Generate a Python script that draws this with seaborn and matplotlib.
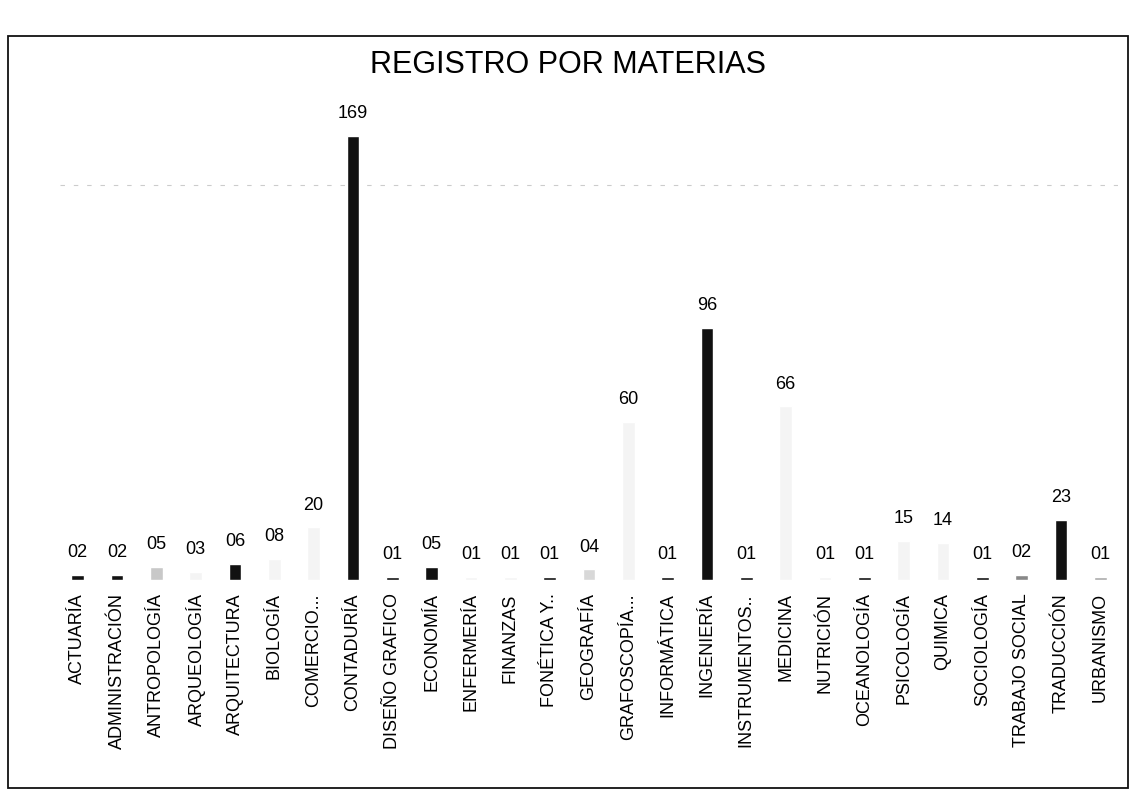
import pandas as pd
import seaborn as sns
import matplotlib.pyplot as plt
from matplotlib.patches import Rectangle

# Data
materias = ['ACTUARÍA', 'ADMINISTRACIÓN', 'ANTROPOLOGÍA', 'ARQUEOLOGÍA', 'ARQUITECTURA',
            'BIOLOGÍA', 'COMERCIO...', 'CONTADURÍA', 'DISEÑO GRAFICO', 'ECONOMÍA',
            'ENFERMERÍA', 'FINANZAS', 'FONÉTICA Y..', 'GEOGRAFÍA', 'GRAFOSCOPÍA...',
            'INFORMÁTICA', 'INGENIERÍA', 'INSTRUMENTOS..', 'MEDICINA', 'NUTRICIÓN',
            'OCEANOLOGÍA', 'PSICOLOGÍA', 'QUIMICA', 'SOCIOLOGÍA', 'TRABAJO SOCIAL',
            'TRADUCCIÓN', 'URBANISMO']
registros = [2, 2, 5, 3, 6, 8, 20, 169, 1, 5, 1, 1, 1, 4, 60, 1, 96, 1, 66, 1, 1, 15, 14, 1, 2, 23, 1]

# bar tones as they survived the scan: dark, mid grey, nearly white
tonos = ['#111111', '#111111', '#c8c8c8', '#f4f4f4', '#111111', '#f4f4f4', '#f4f4f4',
         '#111111', '#111111', '#111111', '#f4f4f4', '#f4f4f4', '#111111', '#d8d8d8',
         '#f4f4f4', '#111111', '#111111', '#111111', '#f4f4f4', '#f4f4f4', '#111111',
         '#f4f4f4', '#f4f4f4', '#111111', '#888888', '#111111', '#aaaaaa']

df = pd.DataFrame({'Materia': materias, 'Registros': registros})

sns.set_style('white')
plt.rcParams['font.family'] = ['Liberation Sans', 'DejaVu Sans']
plt.rcParams['text.color'] = 'black'
plt.rcParams['xtick.color'] = 'black'

fig = plt.figure(figsize=(11.36, 7.93), dpi=100)
ax = fig.add_axes([60 / 1136, 1 - 580 / 793, 1058 / 1136, 480 / 793])

sns.barplot(data=df, x='Materia', y='Registros', hue='Materia',
            palette=dict(zip(materias, tonos)), width=0.32, legend=False, ax=ax)

for cont in ax.containers:
    ax.bar_label(cont, labels=['%02d' % v for v in cont.datavalues],
                 padding=10, fontsize=13, color='black')

ax.set_xlim(-0.45, len(materias) - 0.55)
ax.set_ylim(0, 182.5)
ax.set_yticks([150])
ax.yaxis.grid(True, linestyle=(0, (4, 8)), color='#cccccc', linewidth=0.8)
ax.tick_params(axis='y', left=False, labelleft=False)
ax.tick_params(axis='x', bottom=False, pad=6)
plt.setp(ax.get_xticklabels(), rotation=90, fontsize=13, color='black')
ax.set_xlabel('')
ax.set_ylabel('')
sns.despine(ax=ax, left=True, bottom=True)

fig.text(0.5, 1 - 65 / 793, 'REGISTRO POR MATERIAS', ha='center', va='center',
         fontsize=22, color='black')
fig.patches.append(Rectangle((8 / 1136, 1 - 788 / 793), 1120 / 1136, 752 / 793,
                             transform=fig.transFigure, fill=False,
                             edgecolor='#111111', linewidth=1.3))

fig.savefig('out.png', dpi=100)
